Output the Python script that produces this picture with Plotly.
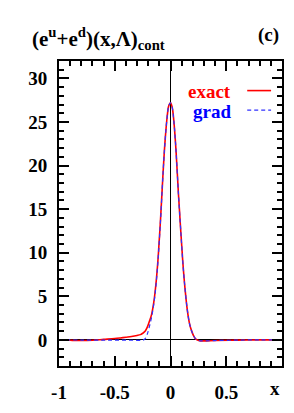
import plotly.graph_objects as go

x_exact = [-1.0, -0.9, -0.8, -0.7, -0.6, -0.5, -0.45, -0.4, -0.35, -0.3, -0.27, -0.25, -0.23, -0.21,
           -0.19, -0.17, -0.15, -0.13, -0.11, -0.09, -0.07, -0.05, -0.03, -0.015, 0.0, 0.015, 0.03,
           0.05, 0.07, 0.09, 0.11, 0.13, 0.15, 0.17, 0.19, 0.21, 0.23, 0.26, 0.3, 0.4, 0.6, 0.8, 1.0]
y_exact = [0.0, -0.05, -0.08, -0.05, 0.05, 0.15, 0.22, 0.3, 0.38, 0.5, 0.6, 0.75, 0.95, 1.4,
           2.1, 2.9, 4.3, 6.5, 9.6, 13.7, 18.4, 22.6, 25.6, 26.9, 27.2, 26.7, 25.1,
           21.6, 17.0, 12.9, 9.0, 5.9, 3.5, 1.9, 1.0, 0.4, 0.05, -0.1, -0.12, -0.08, -0.03, 0.0, 0.0]

x_grad = [-1.0, -0.8, -0.6, -0.5, -0.4, -0.3, -0.25, -0.23, -0.21, -0.19, -0.17, -0.15, -0.13, -0.11,
          -0.09, -0.07, -0.05, -0.03, -0.015, 0.0, 0.015, 0.03, 0.05, 0.07, 0.09, 0.11, 0.13, 0.15,
          0.17, 0.19, 0.21, 0.23, 0.26, 0.3, 0.4, 0.6, 0.8, 1.0]
y_grad = [0.0, -0.02, -0.03, -0.03, -0.04, -0.05, -0.05, 0.1, 0.6, 1.5, 2.6, 4.1, 6.3, 9.5,
          13.6, 18.4, 22.6, 25.6, 26.9, 27.2, 26.7, 25.1, 21.6, 17.0, 12.9, 9.0, 5.9, 3.5,
          1.9, 1.0, 0.4, 0.05, -0.1, -0.12, -0.08, -0.03, 0.0, 0.0]

x_range = [-1, 1]
y_range = [-3, 32]
x_ticks = [-1, -0.5, 0, 0.5]
x_ticklabels = ["-1", "-0.5", "0", "0.5"]
y_ticks = [0, 5, 10, 15, 20, 25, 30]

FONT = "Liberation Serif"
DASH = "4px,3px"

fig = go.Figure()
fig.add_trace(go.Scatter(x=x_exact, y=y_exact, mode="lines", line=dict(color="#ff0000", width=1.6),
                         line_shape="spline", showlegend=False))
fig.add_trace(go.Scatter(x=x_grad, y=y_grad, mode="lines",
                         line=dict(color="#3030ff", width=1.2, dash=DASH),
                         line_shape="spline", showlegend=False))

axis_common = dict(showline=True, linecolor="black", linewidth=2, mirror="allticks",
                   ticks="inside", tickcolor="black", tickwidth=1.5, ticklen=10,
                   showgrid=False, zeroline=True, zerolinecolor="black", zerolinewidth=1.3,
                   tickfont=dict(family=FONT, size=19, color="black", weight="bold"))

fig.update_xaxes(range=x_range, tickmode="linear", tick0=-1, dtick=0.5, ticklabelstandoff=8,
                 tickvals=x_ticks, ticktext=x_ticklabels,
                 minor=dict(ticks="inside", tickmode="linear", tick0=-1, dtick=0.1, ticklen=5,
                            tickcolor="black", tickwidth=1.5, showgrid=False),
                 **axis_common)
fig.update_yaxes(range=y_range, tickmode="linear", tick0=0, dtick=5, ticklabelstandoff=6,
                 minor=dict(ticks="inside", tickmode="linear", tick0=0, dtick=1, ticklen=5,
                            tickcolor="black", tickwidth=1.5, showgrid=False),
                 **axis_common)
fig.update_xaxes(tickmode="array", tickvals=x_ticks, ticktext=x_ticklabels)

ann_font = dict(family=FONT, size=21, color="black", weight="bold")
fig.add_annotation(xref="paper", yref="paper", x=-0.13, y=1.075, xanchor="left", yanchor="middle",
                   text="(e<sup>u</sup>+e<sup>d</sup>)(x,Λ)<sub>cont</sub>", showarrow=False, font=ann_font)
fig.add_annotation(xref="paper", yref="paper", x=0.996, y=1.085, xanchor="right", yanchor="middle",
                   text="(c)", showarrow=False, font=dict(family=FONT, size=19, color="black", weight="bold"))
fig.add_annotation(xref="paper", yref="paper", x=0.97, y=-0.075, xanchor="center", yanchor="middle",
                   text="x", showarrow=False, font=dict(family=FONT, size=19, color="black", weight="bold"))
fig.add_annotation(xref="paper", yref="paper", x=0.782, y=0.900, xanchor="right", yanchor="middle",
                   text="exact", showarrow=False, font=dict(family=FONT, size=19, color="#ff0000", weight="bold"))
fig.add_annotation(xref="paper", yref="paper", x=0.782, y=0.836, xanchor="right", yanchor="middle",
                   text="grad", showarrow=False, font=dict(family=FONT, size=19, color="#0000ff", weight="bold"))
fig.add_shape(type="line", xref="paper", yref="paper", x0=0.844, x1=0.951, y0=0.903, y1=0.903,
              line=dict(color="#ff0000", width=1.6))
fig.add_shape(type="line", xref="paper", yref="paper", x0=0.844, x1=0.951, y0=0.839, y1=0.839,
              line=dict(color="#3030ff", width=1.2, dash=DASH))

fig.update_layout(width=294, height=413, margin=dict(l=59, r=10, t=61, b=41),
                  paper_bgcolor="white", plot_bgcolor="white")

fig.write_html("out.html", config={"displayModeBar": False},
               post_script="document.body.style.margin='0';document.body.style.overflow='hidden';")
